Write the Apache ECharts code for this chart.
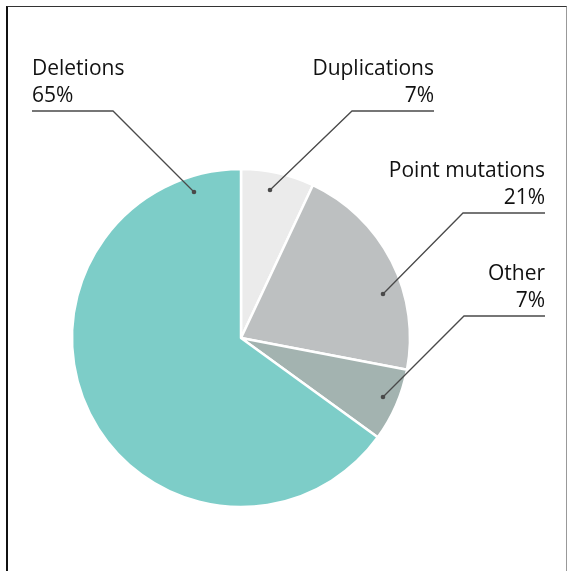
<!DOCTYPE html>
<html><head><meta charset="utf-8">
<script src="https://cdn.jsdelivr.net/npm/echarts@6/dist/echarts.min.js"></script>
<style>
html,body{margin:0;padding:0;background:#fff;}
#frame{position:absolute;left:6px;top:6px;width:561px;height:570px;border-left:2px solid #111;border-top:1.5px solid #333;border-right:1px solid #999;box-sizing:border-box;}
#chart{position:absolute;left:0;top:0;width:570px;height:571px;}
</style></head><body>
<div id="frame"></div><div id="chart"></div>
<script>
const categories = ['Duplications', 'Point mutations', 'Other', 'Deletions'];
const values = [7, 21, 7, 65];
const colors = ['#ebebeb', '#bdc0c1', '#a3b3b0', '#7dcdc8'];
// leader line geometry (dot inside slice, elbow, end under label)
const leaders = [
  { dot: [270, 190], elbow: [352, 111], end: [434, 111], align: 'right' },
  { dot: [383, 294], elbow: [463, 213], end: [545, 213], align: 'right' },
  { dot: [383, 397], elbow: [464, 316], end: [545, 316], align: 'right' },
  { dot: [194, 192], elbow: [113, 111], end: [32, 111], align: 'left' }
];

const chart = echarts.init(document.getElementById('chart'), null, { renderer: 'canvas' });
const graphics = [];
leaders.forEach(l => {
  graphics.push({
    type: 'polyline', z: 100,
    shape: { points: [l.dot, l.elbow, l.end] },
    style: { stroke: '#4a4a4a', lineWidth: 1.3, fill: null }
  });
  graphics.push({
    type: 'circle', z: 101,
    shape: { cx: l.dot[0], cy: l.dot[1], r: 2.3 },
    style: { fill: '#4a4a4a' }
  });
});
chart.setOption({
  animation: false,
  graphic: graphics,
  series: [{
    type: 'pie',
    center: [241, 338],
    radius: 169,
    startAngle: 90,
    clockwise: true,
    avoidLabelOverlap: false,
    itemStyle: { borderColor: '#fff', borderWidth: 2.5 },
    label: {
      show: true,
      formatter: p => p.name + '\n' + p.value + '%',
      fontFamily: 'Open Sans',
      fontSize: 21,
      lineHeight: 27,
      color: '#111'
    },
    labelLine: { show: false },
    labelLayout: function (params) {
      const l = leaders[params.dataIndex];
      return {
        x: l.end[0], y: l.end[1] - 1,
        align: l.align, verticalAlign: 'bottom'
      };
    },
    data: categories.map((c, i) => ({ name: c, value: values[i], itemStyle: { color: colors[i] } }))
  }]
});
</script>
</body></html>
